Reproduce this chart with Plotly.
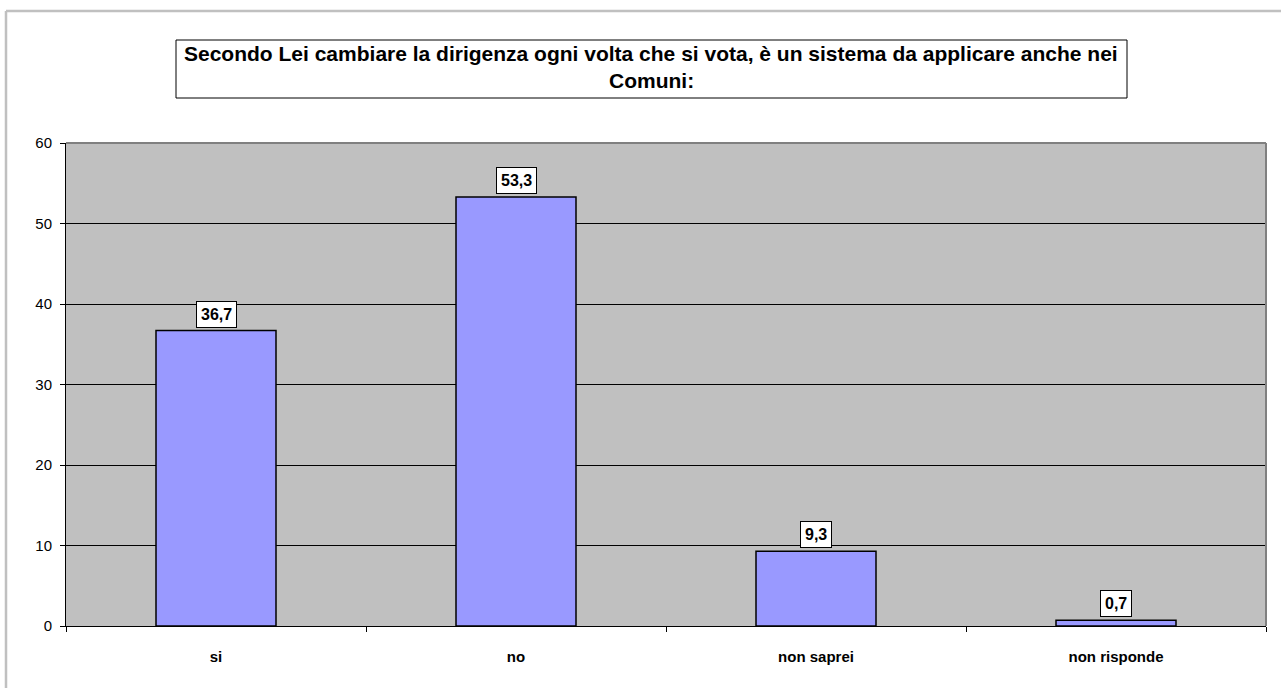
import plotly.graph_objects as go

categories = ["si", "no", "non saprei", "non risponde"]
values = [36.7, 53.3, 9.3, 0.7]
value_labels = ["36,7", "53,3", "9,3", "0,7"]
title_lines = ["Secondo Lei cambiare la dirigenza ogni volta che si vota, è un sistema da applicare anche nei", "Comuni:"]

W, H = 1281, 688
L, R, T, B = 66, 15, 143, 62
pw, ph = W - L - R, H - T - B
FONT = "Arial, Liberation Sans, sans-serif"

def px(x):
    return (x - L) / pw

def py(y):
    return (H - B - y) / ph

fig = go.Figure()
fig.add_trace(go.Bar(
    x=categories, y=values, width=0.4,
    marker=dict(color="#9999FF", line=dict(color="#000000", width=1.5)),
    hoverinfo="skip",
))

for c, v, t in zip(categories, values, value_labels):
    fig.add_annotation(
        x=c, y=v, text="<b>%s</b>" % t, showarrow=False,
        yanchor="bottom", yshift=3,
        font=dict(family=FONT, size=16, color="#000"),
        bgcolor="#FFFFFF", bordercolor="#000000", borderwidth=1, borderpad=4,
    )

# title box
fig.add_shape(type="rect", xref="paper", yref="paper",
              x0=px(176), x1=px(1127), y0=py(98), y1=py(40),
              line=dict(color="#000000", width=1), fillcolor="#FFFFFF")
for line_text, yc in zip(title_lines, [53, 81]):
    fig.add_annotation(
        xref="paper", yref="paper", x=px(651), y=py(yc), showarrow=False,
        text="<b>%s</b>" % line_text,
        font=dict(family=FONT, size=21, color="#000"),
        xanchor="center", yanchor="middle",
    )

# outer chart border (top and left visible)
fig.add_shape(type="line", xref="paper", yref="paper",
              x0=px(6), x1=px(1290), y0=py(11), y1=py(11),
              line=dict(color="#C0C0C0", width=2.5))
fig.add_shape(type="line", xref="paper", yref="paper",
              x0=px(6), x1=px(6), y0=py(11), y1=py(700),
              line=dict(color="#C0C0C0", width=2.5))

# plot area top/right border
fig.add_shape(type="line", xref="paper", yref="paper",
              x0=0, x1=1, y0=1, y1=1, line=dict(color="#808080", width=2))
fig.add_shape(type="line", xref="paper", yref="paper",
              x0=1, x1=1, y0=0, y1=1, line=dict(color="#808080", width=2))

fig.update_layout(
    width=W, height=H,
    margin=dict(l=L, r=R, t=T, b=B),
    paper_bgcolor="#FFFFFF", plot_bgcolor="#C0C0C0",
    showlegend=False,
    font=dict(family=FONT, size=15, color="#000"),
)
fig.update_xaxes(
    type="category", range=[-0.5, 3.5],
    tickson="boundaries", ticks="outside", ticklen=5, tickcolor="#000",
    showline=True, linecolor="#000", linewidth=1,
    showgrid=False, ticklabelstandoff=17,
    tickvals=categories, ticktext=["<b>%s</b>" % c for c in categories],
    tickfont=dict(size=15),
)
fig.update_yaxes(
    range=[0, 60], dtick=10, ticks="outside", ticklen=5, tickcolor="#000",
    showline=True, linecolor="#000", linewidth=1,
    showgrid=True, gridcolor="#000000", gridwidth=1,
    zeroline=False, tickfont=dict(size=15), ticklabelstandoff=5,
)

fig.write_html("out.html", config={"displayModeBar": False},
               post_script="document.body.style.margin='0px';")
